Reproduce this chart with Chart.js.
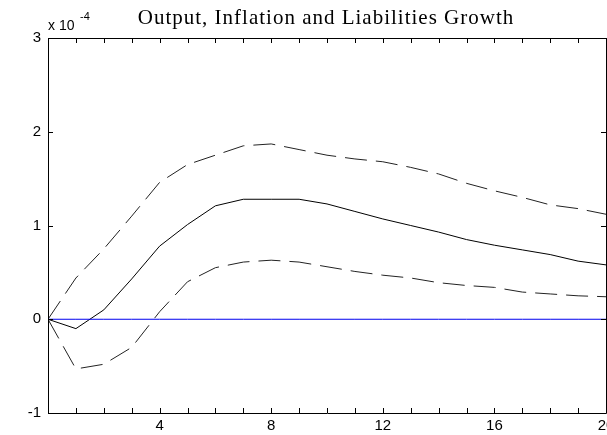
<!DOCTYPE html>
<html>
<head>
<meta charset="utf-8">
<script src="https://cdn.jsdelivr.net/npm/chart.js@4"></script>
<style>
  html, body { margin: 0; padding: 0; background: #fff; overflow: hidden; width: 607px; height: 435px; }
  #wrap { width: 620px; height: 435px; }
</style>
</head>
<body>
<div id="wrap"><canvas id="irf_chart" width="620" height="435"></canvas></div>
<script>
// horizon (quarters) and impulse response, in units of 1e-4
var steps = [0, 1, 2, 3, 4, 5, 6, 7, 8, 9, 10, 11, 12, 13, 14, 15, 16, 17, 18, 19, 20];
var response = [0, -0.10, 0.10, 0.43, 0.78, 1.01, 1.21, 1.28, 1.28, 1.28, 1.23, 1.15, 1.07, 1.00, 0.93, 0.85, 0.79, 0.74, 0.69, 0.62, 0.58];
var upperBand = [0, 0.44, 0.75, 1.10, 1.46, 1.65, 1.75, 1.85, 1.87, 1.81, 1.75, 1.71, 1.68, 1.62, 1.55, 1.45, 1.37, 1.30, 1.22, 1.18, 1.12];
var lowerBand = [0, -0.53, -0.48, -0.30, 0.08, 0.40, 0.55, 0.61, 0.63, 0.61, 0.56, 0.51, 0.47, 0.44, 0.39, 0.36, 0.34, 0.29, 0.27, 0.25, 0.24];
var zeroLine = [0, 0, 0, 0, 0, 0, 0, 0, 0, 0, 0, 0, 0, 0, 0, 0, 0, 0, 0, 0, 0];
var xLabels = [4, 8, 12, 16, 20];
var yTicks = [-1, 0, 1, 2, 3];
var chartTitle = "Output, Inflation and Liabilities Growth";

function toPoints(vals) {
    var pts = [];
    for (var i = 0; i < steps.length; i++) {
        pts.push({ x: steps[i], y: vals[i] });
    }
    return pts;
}

// box, inward tick marks, title and exponent label (matlab style)
var matlabFrame = {
    id: 'matlabFrame',
    afterDraw: function (c) {
        var ctx = c.ctx, a = c.chartArea;
        var xs = c.scales.x, ys = c.scales.y;
        ctx.save();
        ctx.strokeStyle = '#000';
        ctx.lineWidth = 1;
        ctx.beginPath();
        ctx.rect(Math.round(a.left) + 0.5, Math.round(a.top) + 0.5, Math.round(a.right - a.left), Math.round(a.bottom - a.top));
        for (var i = 0; i < steps.length; i++) {
            var px = Math.round(xs.getPixelForValue(steps[i])) + 0.5;
            ctx.moveTo(px, a.bottom); ctx.lineTo(px, a.bottom - 5);
            ctx.moveTo(px, a.top); ctx.lineTo(px, a.top + 5);
        }
        for (var j = 0; j < yTicks.length; j++) {
            var py = Math.round(ys.getPixelForValue(yTicks[j])) + 0.5;
            ctx.moveTo(a.left, py); ctx.lineTo(a.left + 5, py);
            ctx.moveTo(a.right, py); ctx.lineTo(a.right - 5, py);
        }
        ctx.stroke();

        ctx.fillStyle = '#000';
        ctx.font = '21px "Liberation Serif", "Times New Roman", serif';
        ctx.letterSpacing = '1px';
        ctx.textAlign = 'center';
        ctx.textBaseline = 'alphabetic';
        ctx.fillText(chartTitle, 326, 24);
        ctx.letterSpacing = '0px';

        ctx.textAlign = 'left';
        ctx.font = '14px "Liberation Sans", Arial, sans-serif';
        ctx.fillText('x 10', 48, 30);
        ctx.font = '11px "Liberation Sans", Arial, sans-serif';
        ctx.fillText('-4', 80, 20);
        ctx.restore();
    }
};

var config = {
    type: 'line',
    data: {
        datasets: [{
            label: 'zero',
            data: toPoints(zeroLine),
            borderColor: '#0000ee',
            borderWidth: 1
        }, {
            label: 'upper',
            data: toPoints(upperBand),
            borderColor: '#222',
            borderWidth: 1,
            borderDash: [22, 9]
        }, {
            label: 'lower',
            data: toPoints(lowerBand),
            borderColor: '#222',
            borderWidth: 1,
            borderDash: [22, 9]
        }, {
            label: 'response',
            data: toPoints(response),
            borderColor: '#000',
            borderWidth: 1
        }]
    },
    options: {
        responsive: false,
        animation: false,
        devicePixelRatio: 1,
        layout: { padding: { top: 38, right: 14, left: 0, bottom: 0 } },
        elements: { point: { radius: 0 }, line: { tension: 0 } },
        plugins: { legend: { display: false }, tooltip: { enabled: false }, title: { display: false } },
        scales: {
            x: {
                type: 'linear',
                min: 0,
                max: 20,
                grid: { display: false, drawTicks: false },
                border: { display: false },
                afterBuildTicks: function (s) {
                    s.ticks = xLabels.map(function (v) { return { value: v }; });
                },
                afterFit: function (s) { s.height = 22; },
                ticks: {
                    autoSkip: false,
                    maxRotation: 0,
                    padding: 4,
                    color: '#000',
                    font: { family: '"Liberation Sans", Arial, sans-serif', size: 15 }
                }
            },
            y: {
                min: -1,
                max: 3,
                grid: { display: false, drawTicks: false },
                border: { display: false },
                afterBuildTicks: function (s) {
                    s.ticks = yTicks.map(function (v) { return { value: v }; });
                },
                afterFit: function (s) { s.width = 48; },
                ticks: {
                    padding: 7,
                    color: '#000',
                    font: { family: '"Liberation Sans", Arial, sans-serif', size: 15 }
                }
            }
        }
    },
    plugins: [matlabFrame]
};

new Chart(document.getElementById('irf_chart').getContext('2d'), config);
</script>
</body>
</html>
